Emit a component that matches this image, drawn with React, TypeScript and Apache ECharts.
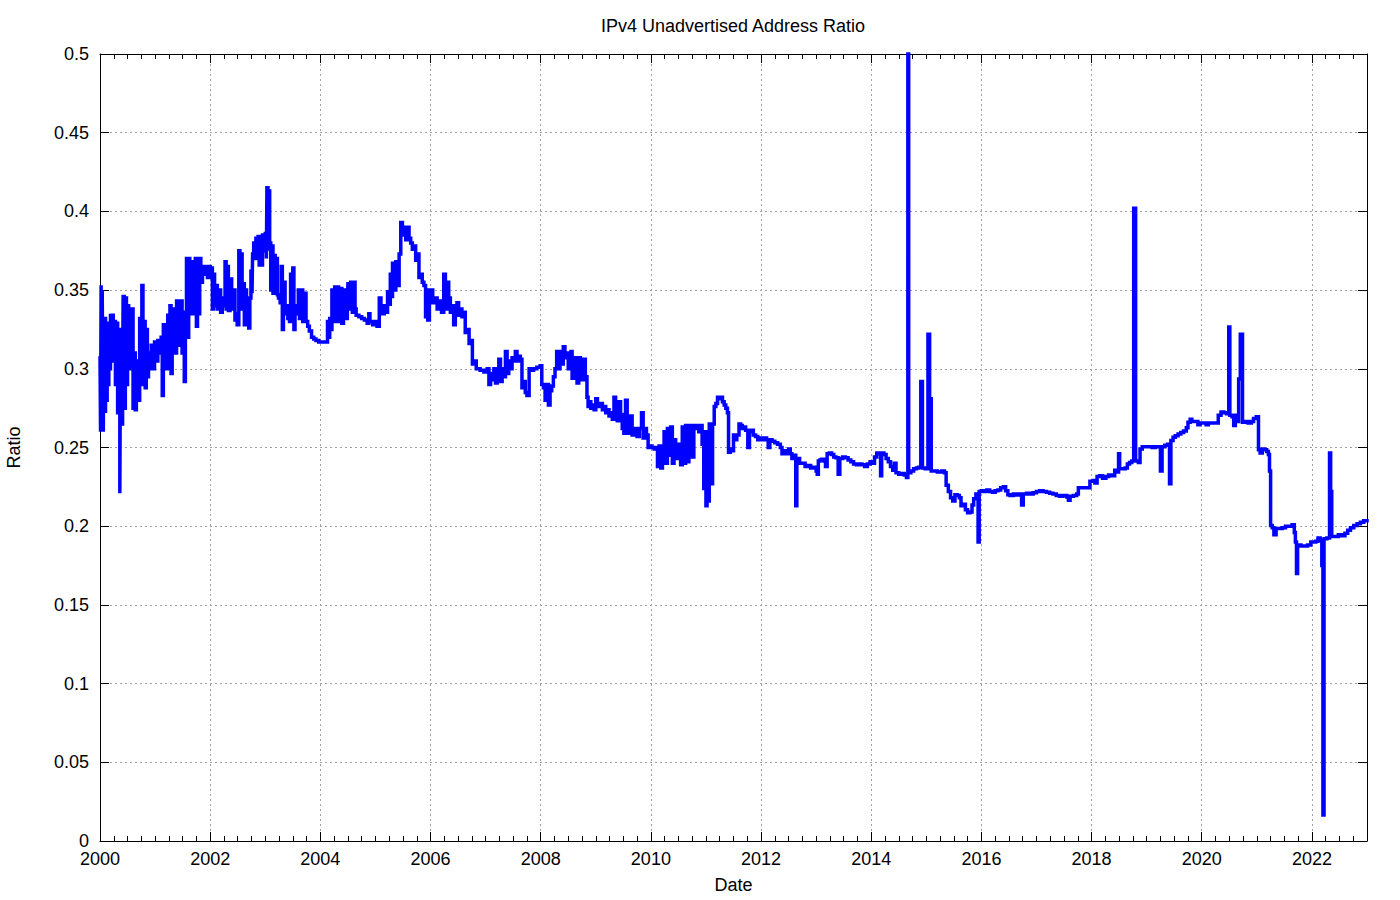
import React, { useEffect, useRef } from "react";
import * as echarts from "echarts";

// [decimal year, ratio]
const ratio2000to2004: [number, number][] = [
  [2000.0, 0.308], [2000.01, 0.26], [2000.02, 0.353], [2000.03, 0.27], [2000.04, 0.35], [2000.05, 0.296],
  [2000.06, 0.26], [2000.07, 0.33], [2000.08, 0.273], [2000.1, 0.333], [2000.11, 0.28], [2000.13, 0.329],
  [2000.14, 0.29], [2000.16, 0.33], [2000.17, 0.3], [2000.19, 0.335], [2000.2, 0.31], [2000.22, 0.334],
  [2000.24, 0.305], [2000.26, 0.33], [2000.28, 0.29], [2000.3, 0.329], [2000.32, 0.272], [2000.34, 0.325],
  [2000.36, 0.221], [2000.37, 0.3], [2000.39, 0.265], [2000.41, 0.298], [2000.42, 0.346], [2000.44, 0.275],
  [2000.46, 0.345], [2000.48, 0.29], [2000.5, 0.34], [2000.52, 0.3], [2000.54, 0.338], [2000.56, 0.31],
  [2000.58, 0.338], [2000.6, 0.275], [2000.62, 0.31], [2000.64, 0.274], [2000.66, 0.3], [2000.68, 0.305],
  [2000.7, 0.28], [2000.72, 0.332], [2000.74, 0.29], [2000.76, 0.353], [2000.78, 0.3], [2000.8, 0.33],
  [2000.82, 0.288], [2000.84, 0.325], [2000.86, 0.295], [2000.88, 0.31], [2000.9, 0.3], [2000.93, 0.315],
  [2000.96, 0.3], [2000.99, 0.317], [2001.02, 0.305], [2001.05, 0.318], [2001.08, 0.31], [2001.11, 0.32],
  [2001.13, 0.283], [2001.15, 0.328], [2001.17, 0.3], [2001.19, 0.328], [2001.21, 0.305], [2001.23, 0.334],
  [2001.25, 0.3], [2001.27, 0.34], [2001.29, 0.297], [2001.31, 0.338], [2001.33, 0.31], [2001.35, 0.336],
  [2001.37, 0.31], [2001.39, 0.343], [2001.41, 0.315], [2001.43, 0.34], [2001.45, 0.32], [2001.47, 0.343],
  [2001.49, 0.31], [2001.51, 0.336], [2001.53, 0.292], [2001.55, 0.33], [2001.57, 0.37], [2001.59, 0.32],
  [2001.61, 0.37], [2001.63, 0.335], [2001.65, 0.368], [2001.67, 0.335], [2001.69, 0.36], [2001.71, 0.345],
  [2001.73, 0.37], [2001.75, 0.327], [2001.77, 0.365], [2001.79, 0.335], [2001.81, 0.37], [2001.83, 0.355],
  [2001.86, 0.365], [2001.89, 0.36], [2001.92, 0.365], [2001.95, 0.358], [2001.98, 0.365], [2002.0, 0.36],
  [2002.02, 0.364], [2002.04, 0.338], [2002.06, 0.36], [2002.08, 0.34], [2002.1, 0.353], [2002.13, 0.338],
  [2002.16, 0.35], [2002.19, 0.336], [2002.22, 0.345], [2002.25, 0.34], [2002.27, 0.368], [2002.29, 0.338],
  [2002.31, 0.365], [2002.33, 0.337], [2002.36, 0.357], [2002.39, 0.338], [2002.42, 0.35], [2002.45, 0.331],
  [2002.47, 0.335], [2002.49, 0.328], [2002.52, 0.375], [2002.54, 0.338], [2002.56, 0.373], [2002.58, 0.345],
  [2002.6, 0.354], [2002.62, 0.328], [2002.64, 0.35], [2002.66, 0.335], [2002.68, 0.345], [2002.7, 0.326],
  [2002.72, 0.345], [2002.74, 0.362], [2002.76, 0.348], [2002.77, 0.373], [2002.79, 0.38], [2002.81, 0.37],
  [2002.83, 0.383], [2002.85, 0.375], [2002.87, 0.384], [2002.89, 0.366], [2002.91, 0.384], [2002.93, 0.366],
  [2002.95, 0.385], [2002.97, 0.375], [2003.0, 0.386], [2003.02, 0.37], [2003.03, 0.415], [2003.05, 0.375],
  [2003.06, 0.413], [2003.08, 0.38], [2003.1, 0.35], [2003.12, 0.378], [2003.14, 0.348], [2003.16, 0.372],
  [2003.18, 0.348], [2003.2, 0.37], [2003.22, 0.347], [2003.24, 0.345], [2003.27, 0.342], [2003.29, 0.365],
  [2003.31, 0.325], [2003.33, 0.355], [2003.36, 0.335], [2003.39, 0.34], [2003.41, 0.332], [2003.44, 0.33],
  [2003.46, 0.36], [2003.48, 0.33], [2003.5, 0.364], [2003.52, 0.325], [2003.54, 0.335], [2003.57, 0.34],
  [2003.6, 0.35], [2003.62, 0.332], [2003.65, 0.35], [2003.68, 0.33], [2003.71, 0.348], [2003.74, 0.33],
  [2003.77, 0.327], [2003.8, 0.324], [2003.84, 0.32], [2003.88, 0.319], [2003.92, 0.318], [2003.97, 0.317],
  [2004.05, 0.317], [2004.1, 0.317], [2004.13, 0.33], [2004.15, 0.32], [2004.17, 0.332], [2004.19, 0.325],
];

const ratio2004to2008: [number, number][] = [
  [2004.21, 0.35], [2004.24, 0.33], [2004.26, 0.352], [2004.28, 0.33], [2004.3, 0.352], [2004.33, 0.33],
  [2004.36, 0.351], [2004.39, 0.329], [2004.42, 0.35], [2004.45, 0.335], [2004.47, 0.332], [2004.49, 0.338],
  [2004.5, 0.354], [2004.53, 0.338], [2004.55, 0.355], [2004.58, 0.336], [2004.6, 0.355], [2004.63, 0.338],
  [2004.65, 0.334], [2004.7, 0.333], [2004.75, 0.332], [2004.8, 0.331], [2004.85, 0.329], [2004.88, 0.335],
  [2004.9, 0.33], [2004.95, 0.328], [2005.0, 0.33], [2005.03, 0.327], [2005.07, 0.345], [2005.1, 0.34],
  [2005.13, 0.335], [2005.16, 0.34], [2005.19, 0.336], [2005.22, 0.349], [2005.24, 0.341], [2005.27, 0.36],
  [2005.29, 0.346], [2005.31, 0.367], [2005.34, 0.35], [2005.37, 0.368], [2005.4, 0.353], [2005.43, 0.373],
  [2005.46, 0.393], [2005.49, 0.385], [2005.52, 0.39], [2005.55, 0.382], [2005.58, 0.39], [2005.61, 0.383],
  [2005.64, 0.38], [2005.67, 0.376], [2005.7, 0.378], [2005.73, 0.369], [2005.76, 0.373], [2005.79, 0.358],
  [2005.82, 0.36], [2005.85, 0.355], [2005.88, 0.353], [2005.91, 0.333], [2005.93, 0.35], [2005.95, 0.331],
  [2005.98, 0.348], [2006.01, 0.35], [2006.04, 0.342], [2006.08, 0.345], [2006.12, 0.338], [2006.16, 0.343],
  [2006.2, 0.336], [2006.24, 0.36], [2006.27, 0.338], [2006.3, 0.355], [2006.33, 0.345], [2006.36, 0.336],
  [2006.39, 0.34], [2006.42, 0.328], [2006.45, 0.336], [2006.48, 0.342], [2006.51, 0.334], [2006.54, 0.338],
  [2006.57, 0.333], [2006.6, 0.336], [2006.63, 0.323], [2006.66, 0.325], [2006.7, 0.316], [2006.73, 0.318],
  [2006.76, 0.303], [2006.79, 0.305], [2006.83, 0.3], [2006.9, 0.299], [2006.97, 0.298], [2007.03, 0.3],
  [2007.06, 0.29], [2007.09, 0.297], [2007.12, 0.293], [2007.15, 0.3], [2007.18, 0.291], [2007.21, 0.298],
  [2007.24, 0.306], [2007.27, 0.292], [2007.3, 0.3], [2007.33, 0.295], [2007.36, 0.311], [2007.39, 0.297],
  [2007.42, 0.305], [2007.45, 0.3], [2007.48, 0.307], [2007.51, 0.305], [2007.54, 0.311], [2007.57, 0.305],
  [2007.6, 0.308], [2007.63, 0.306], [2007.66, 0.288], [2007.69, 0.292], [2007.72, 0.285], [2007.75, 0.283],
  [2007.79, 0.3], [2007.83, 0.299], [2007.87, 0.3], [2007.93, 0.301], [2007.99, 0.302], [2008.02, 0.29],
  [2008.05, 0.288], [2008.08, 0.28], [2008.11, 0.29], [2008.14, 0.277], [2008.17, 0.286], [2008.2, 0.289],
  [2008.23, 0.295], [2008.26, 0.3], [2008.29, 0.311], [2008.32, 0.3], [2008.35, 0.311], [2008.38, 0.303],
  [2008.41, 0.314], [2008.44, 0.307], [2008.47, 0.31], [2008.5, 0.3], [2008.53, 0.31],
];

const ratio2008to2013: [number, number][] = [
  [2008.55, 0.311], [2008.57, 0.294], [2008.6, 0.307], [2008.63, 0.302], [2008.66, 0.291], [2008.69, 0.307],
  [2008.72, 0.306], [2008.75, 0.293], [2008.78, 0.306], [2008.81, 0.295], [2008.84, 0.282], [2008.86, 0.276],
  [2008.88, 0.279], [2008.91, 0.275], [2008.94, 0.277], [2008.97, 0.274], [2009.0, 0.281], [2009.03, 0.277],
  [2009.06, 0.276], [2009.09, 0.278], [2009.12, 0.274], [2009.15, 0.276], [2009.18, 0.272], [2009.21, 0.274],
  [2009.24, 0.27], [2009.27, 0.272], [2009.3, 0.268], [2009.33, 0.282], [2009.36, 0.272], [2009.39, 0.267],
  [2009.42, 0.279], [2009.45, 0.271], [2009.48, 0.262], [2009.51, 0.259], [2009.54, 0.28], [2009.57, 0.262],
  [2009.6, 0.259], [2009.63, 0.27], [2009.66, 0.258], [2009.7, 0.262], [2009.75, 0.257], [2009.79, 0.262],
  [2009.83, 0.272], [2009.86, 0.256], [2009.89, 0.262], [2009.92, 0.258], [2009.95, 0.25], [2009.98, 0.251],
  [2010.02, 0.25], [2010.06, 0.249], [2010.1, 0.25], [2010.12, 0.238], [2010.15, 0.251], [2010.18, 0.237],
  [2010.21, 0.251], [2010.24, 0.26], [2010.27, 0.24], [2010.3, 0.262], [2010.33, 0.245], [2010.36, 0.263],
  [2010.39, 0.24], [2010.42, 0.255], [2010.45, 0.25], [2010.48, 0.243], [2010.51, 0.252], [2010.54, 0.239],
  [2010.57, 0.263], [2010.6, 0.24], [2010.63, 0.264], [2010.66, 0.241], [2010.69, 0.264], [2010.72, 0.263],
  [2010.75, 0.244], [2010.78, 0.264], [2010.81, 0.262], [2010.84, 0.264], [2010.87, 0.26], [2010.9, 0.264],
  [2010.93, 0.252], [2010.96, 0.224], [2010.98, 0.26], [2011.0, 0.213], [2011.02, 0.26], [2011.04, 0.216],
  [2011.06, 0.265], [2011.08, 0.255], [2011.1, 0.227], [2011.12, 0.265], [2011.15, 0.276], [2011.18, 0.278],
  [2011.21, 0.282], [2011.24, 0.281], [2011.27, 0.282], [2011.3, 0.279], [2011.33, 0.277], [2011.36, 0.275],
  [2011.39, 0.272], [2011.41, 0.247], [2011.44, 0.249], [2011.47, 0.248], [2011.5, 0.258], [2011.53, 0.255],
  [2011.56, 0.258], [2011.6, 0.265], [2011.63, 0.264], [2011.66, 0.262], [2011.69, 0.263], [2011.72, 0.261],
  [2011.76, 0.25], [2011.79, 0.26], [2011.82, 0.261], [2011.86, 0.258], [2011.9, 0.257], [2011.94, 0.255],
  [2011.98, 0.256], [2012.02, 0.255], [2012.06, 0.256], [2012.1, 0.255], [2012.13, 0.25], [2012.16, 0.255],
  [2012.2, 0.254], [2012.25, 0.253], [2012.3, 0.252], [2012.35, 0.25], [2012.38, 0.246], [2012.42, 0.248],
  [2012.46, 0.246], [2012.5, 0.249], [2012.53, 0.246], [2012.56, 0.243], [2012.6, 0.245], [2012.63, 0.213],
  [2012.65, 0.243], [2012.7, 0.24], [2012.75, 0.24], [2012.8, 0.238], [2012.85, 0.2385], [2012.9, 0.237],
  [2012.95, 0.2375],
];

const ratio2013to2017: [number, number][] = [
  [2013.0, 0.235], [2013.02, 0.233], [2013.04, 0.2415], [2013.07, 0.242], [2013.1, 0.2425], [2013.14, 0.2415],
  [2013.17, 0.238], [2013.2, 0.246], [2013.24, 0.2465], [2013.28, 0.2455], [2013.32, 0.244], [2013.36, 0.2435],
  [2013.4, 0.233], [2013.43, 0.243], [2013.48, 0.244], [2013.53, 0.2435], [2013.58, 0.242], [2013.63, 0.241],
  [2013.68, 0.2395], [2013.73, 0.239], [2013.78, 0.2395], [2013.83, 0.239], [2013.88, 0.238], [2013.93, 0.2395],
  [2013.98, 0.241], [2014.03, 0.24], [2014.06, 0.244], [2014.1, 0.2465], [2014.14, 0.246], [2014.17, 0.232],
  [2014.19, 0.2465], [2014.23, 0.2455], [2014.27, 0.243], [2014.31, 0.241], [2014.35, 0.238], [2014.39, 0.2355],
  [2014.42, 0.24], [2014.45, 0.234], [2014.5, 0.233], [2014.55, 0.2335], [2014.6, 0.2325], [2014.64, 0.231],
  [2014.665, 0.56], [2014.68, 0.234], [2014.72, 0.235], [2014.77, 0.2365], [2014.82, 0.237], [2014.86, 0.2375],
  [2014.9, 0.292], [2014.93, 0.237], [2014.98, 0.2365], [2015.03, 0.322], [2015.06, 0.281], [2015.09, 0.235],
  [2015.13, 0.235], [2015.2, 0.2345], [2015.28, 0.235], [2015.33, 0.234], [2015.36, 0.226], [2015.4, 0.222],
  [2015.44, 0.218], [2015.48, 0.216], [2015.52, 0.22], [2015.56, 0.2195], [2015.6, 0.218], [2015.63, 0.213],
  [2015.67, 0.214], [2015.71, 0.2105], [2015.75, 0.2085], [2015.79, 0.209], [2015.83, 0.2135], [2015.86, 0.2175],
  [2015.9, 0.2205], [2015.94, 0.19], [2015.96, 0.222], [2016.0, 0.2225], [2016.05, 0.222], [2016.1, 0.223],
  [2016.15, 0.222], [2016.2, 0.2215], [2016.25, 0.2225], [2016.3, 0.223], [2016.35, 0.2245], [2016.4, 0.225],
  [2016.44, 0.2225], [2016.48, 0.22], [2016.52, 0.2195], [2016.58, 0.2205], [2016.64, 0.2198], [2016.7, 0.2205],
  [2016.73, 0.2135], [2016.76, 0.2205], [2016.82, 0.221], [2016.88, 0.2205], [2016.94, 0.2212], [2017.0, 0.222],
  [2017.06, 0.2225], [2017.12, 0.222], [2017.18, 0.2215],
];

const ratio2017to2023: [number, number][] = [
  [2017.24, 0.221], [2017.3, 0.2205], [2017.36, 0.2195], [2017.42, 0.219], [2017.48, 0.2195], [2017.55, 0.2185],
  [2017.58, 0.2165], [2017.61, 0.219], [2017.67, 0.2195], [2017.73, 0.2205], [2017.76, 0.2245], [2017.8, 0.2245],
  [2017.86, 0.2245], [2017.94, 0.2245], [2017.97, 0.2285], [2018.03, 0.229], [2018.06, 0.2275], [2018.1, 0.2315],
  [2018.15, 0.232], [2018.2, 0.2305], [2018.26, 0.2315], [2018.31, 0.2325], [2018.36, 0.232], [2018.42, 0.2355],
  [2018.46, 0.2345], [2018.49, 0.246], [2018.51, 0.2365], [2018.56, 0.2365], [2018.61, 0.237], [2018.65, 0.2395],
  [2018.69, 0.2405], [2018.73, 0.2415], [2018.765, 0.402], [2018.8, 0.2415], [2018.85, 0.2405], [2018.88, 0.249],
  [2018.92, 0.2505], [2018.97, 0.2505], [2019.03, 0.2505], [2019.1, 0.25], [2019.16, 0.2505], [2019.21, 0.2505],
  [2019.25, 0.235], [2019.28, 0.2505], [2019.33, 0.2515], [2019.38, 0.252], [2019.415, 0.227], [2019.44, 0.2545],
  [2019.48, 0.2565], [2019.52, 0.2575], [2019.57, 0.2585], [2019.62, 0.2595], [2019.67, 0.2605], [2019.72, 0.2625],
  [2019.75, 0.266], [2019.79, 0.268], [2019.82, 0.2665], [2019.86, 0.2665], [2019.9, 0.2665], [2019.93, 0.2645],
  [2019.97, 0.2655], [2020.03, 0.2655], [2020.08, 0.2645], [2020.12, 0.2655], [2020.18, 0.2655], [2020.24, 0.2655],
  [2020.3, 0.2705], [2020.35, 0.2725], [2020.4, 0.272], [2020.45, 0.2715], [2020.49, 0.3265], [2020.51, 0.2705],
  [2020.55, 0.2695], [2020.58, 0.264], [2020.61, 0.2705], [2020.64, 0.2665], [2020.67, 0.2935], [2020.7, 0.322],
  [2020.74, 0.266], [2020.78, 0.2665], [2020.84, 0.2655], [2020.9, 0.2665], [2020.94, 0.2685], [2020.99, 0.2695],
  [2021.03, 0.2485], [2021.06, 0.2465], [2021.1, 0.249], [2021.14, 0.2485], [2021.18, 0.2475], [2021.21, 0.2455],
  [2021.23, 0.235], [2021.25, 0.2005], [2021.28, 0.199], [2021.31, 0.1945], [2021.35, 0.1985], [2021.4, 0.1985],
  [2021.46, 0.199], [2021.52, 0.2], [2021.58, 0.2], [2021.64, 0.201], [2021.68, 0.196], [2021.7, 0.19],
  [2021.72, 0.17], [2021.74, 0.188], [2021.8, 0.1875], [2021.86, 0.1875], [2021.92, 0.188], [2021.98, 0.19],
  [2022.03, 0.19], [2022.07, 0.1905], [2022.11, 0.1925], [2022.15, 0.191], [2022.18, 0.175], [2022.2, 0.0165],
  [2022.22, 0.192], [2022.27, 0.1925], [2022.32, 0.2465], [2022.34, 0.222], [2022.36, 0.1935], [2022.42, 0.1935],
  [2022.48, 0.1945], [2022.54, 0.194], [2022.6, 0.1955], [2022.65, 0.1975], [2022.7, 0.199], [2022.76, 0.2005],
  [2022.82, 0.2015], [2022.88, 0.2025], [2022.94, 0.2035], [2023.0, 0.2045],
];

const titleText = "IPv4 Unadvertised Address Ratio";
const xName = "Date";
const yName = "Ratio";

const FONT = "'Liberation Sans', Arial, sans-serif";

export default function App() {
  const ref = useRef<HTMLDivElement>(null);
  useEffect(() => {
    if (!ref.current) return;
    const chart = echarts.init(ref.current, undefined, { renderer: "svg" });
    const data = [
      ...ratio2000to2004,
      ...ratio2004to2008,
      ...ratio2008to2013,
      ...ratio2013to2017,
      ...ratio2017to2023,
    ];
    const grid = {
      left: 100,
      right: 33,
      top: 54,
      bottom: 59,
      show: false,
      containLabel: false,
      outerBoundsMode: "none",
    };
    const splitLine = {
      show: true,
      showMinLine: false,
      showMaxLine: false,
      lineStyle: { color: "#a0a0a0", width: 1, type: [2, 3] as any },
    };
    const black = { color: "#000", width: 1 };
    const baseX = { type: "value" as const, min: 2000, max: 2023, gridIndex: 0 };
    chart.setOption({
      animation: false,
      backgroundColor: "#fff",
      textStyle: { fontFamily: FONT },
      title: {
        text: titleText,
        left: 733,
        top: 17,
        padding: 0,
        textAlign: "center",
        textStyle: { fontFamily: FONT, fontSize: 18, fontWeight: "normal", color: "#000" },
      },
      grid,
      xAxis: [
        {
          ...baseX,
          position: "bottom",
          interval: 2,
          name: xName,
          nameLocation: "middle",
          nameGap: 35,
          nameTextStyle: { fontFamily: FONT, fontSize: 18, color: "#000" },
          axisLine: { show: true, onZero: false, lineStyle: black },
          axisTick: { show: true, inside: true, length: 9, lineStyle: black },
          axisLabel: {
            margin: 9,
            fontFamily: FONT,
            fontSize: 18,
            color: "#000",
            formatter: (v: number) => (v % 2 === 0 ? String(v) : ""),
          },
          splitLine,
        },
        {
          ...baseX,
          position: "bottom",
          interval: 0.25,
          axisLine: { show: false, onZero: false },
          axisTick: { show: true, inside: true, length: 5, lineStyle: black },
          axisLabel: { show: false },
          splitLine: { show: false },
        },
        {
          ...baseX,
          position: "top",
          interval: 2,
          axisLine: { show: true, onZero: false, lineStyle: black },
          axisTick: { show: true, inside: true, length: 9, lineStyle: black },
          axisLabel: { show: false },
          splitLine: { show: false },
        },
        {
          ...baseX,
          position: "top",
          interval: 0.25,
          axisLine: { show: false, onZero: false },
          axisTick: { show: true, inside: true, length: 5, lineStyle: black },
          axisLabel: { show: false },
          splitLine: { show: false },
        },
      ],
      yAxis: [
        {
          type: "value",
          min: 0,
          max: 0.5,
          interval: 0.05,
          position: "left",
          name: yName,
          nameLocation: "middle",
          nameGap: 77,
          nameTextStyle: { fontFamily: FONT, fontSize: 18, color: "#000" },
          axisLine: { show: true, onZero: false, lineStyle: black },
          axisTick: { show: true, inside: true, length: 9, lineStyle: black },
          axisLabel: { margin: 11, fontFamily: FONT, fontSize: 18, color: "#000" },
          splitLine,
        },
        {
          type: "value",
          min: 0,
          max: 0.5,
          interval: 0.05,
          position: "right",
          axisLine: { show: true, onZero: false, lineStyle: black },
          axisTick: { show: true, inside: true, length: 9, lineStyle: black },
          axisLabel: { show: false },
          splitLine: { show: false },
        },
      ],
      series: [
        {
          type: "line",
          xAxisIndex: 0,
          yAxisIndex: 0,
          data,
          step: "end",
          showSymbol: false,
          symbol: "none",
          clip: true,
          lineStyle: { color: "#0000ff", width: 3.5, cap: "butt", join: "miter" },
        },
      ],
    });
    return () => chart.dispose();
  }, []);
  return (
    <div
      ref={ref}
      style={{ position: "fixed", left: 0, top: 0, width: 1400, height: 900, background: "#fff" }}
    />
  );
}
